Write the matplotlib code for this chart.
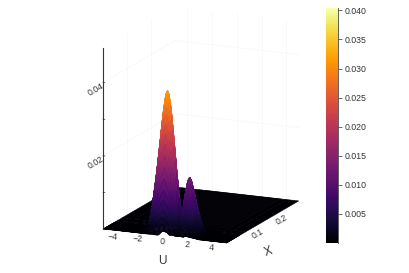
import numpy as np
import matplotlib
matplotlib.use("Agg")
import matplotlib.pyplot as plt
from matplotlib.colors import Normalize
from matplotlib.cm import ScalarMappable
from mpl_toolkits.mplot3d import proj3d

plt.rcParams['font.family'] = ['Liberation Sans', 'DejaVu Sans']

# ---- data ----
u_values = [-5, -4, -3,
            -2.5, -2.4, -2.3, -2.2, -2.1, -2.0, -1.9, -1.8, -1.7, -1.6,
            -1.5, -1.4, -1.3, -1.2, -1.1, -1.0, -0.9, -0.8, -0.7, -0.6,
            -0.5, -0.4, -0.3, -0.2, -0.1, 0.0, 0.1, 0.2, 0.3, 0.4,
            0.5, 0.6, 0.7, 0.8, 0.9, 1.0, 1.1, 1.2, 1.3, 1.4,
            1.5, 1.6, 1.7, 1.8, 1.9, 2.0, 2.1, 2.2, 2.3, 2.4,
            2.5, 2.6, 2.7, 2.8, 2.9, 3.0, 3.1, 3.2, 3.3, 3.4, 3.5,
            4, 5]
ridge_profile = [0, 0, 0.0001,
                 .0002, .0003, .0004, .0006, .0006, .0006, .0007, .0010, .0018, .0032,
                 .0050, .0072, .0098, .0126, .0155, .0185, .0217, .0250, .0283, .0315,
                 .0345, .0368, .0384, .0388, .0380, .0360, .0330, .0295, .0255, .0215,
                 .0175, .0135, .0102, .0075, .0060, .0060, .0075, .0100, .0125, .0143,
                 .0155, .0158, .0152, .0138, .0124, .0108, .0092, .0077, .0063, .0050,
                 .0039, .0030, .0022, .0016, .0011, .0008, .0005, .0003, .0002, .0001, 0,
                 0, 0]
edge_profile = [0, 0, 0,
                0, 0, 0, 0, 0, 0, 0, 0, 0, 0,
                0, 0, 0, 0, 0, 0, 0, 0, 0, 0,
                .0001, .0004, .0008, .0014, .0017, .0017, .0014, .0009, .0005, .0003,
                .0003, .0005, .0008, .0011, .0012, .0012, .0010, .0007, .0004, .0002,
                .0002, .0004, .0007, .0011, .0014, .0015, .0013, .0010, .0007, .0004,
                .0002, .0001, 0, 0, 0, 0, 0, 0, 0, 0, 0,
                0, 0]
x_values = [0, .00125, .0025, .00375, .005, .00625, .0075, .00875, .01, .01125, .0125, .01375,
            .015, .01625, .0175, .01875, .02, .02125, .0225, .02375, .025, .02625, .0275, .02875,
            .03, .03125, .0325, .03375, .035, .03625, .0375, .03875, .04, .0425, .045, .0475,
            .05, .055, .06, .08, .3]
x_decay = [0, .03, .08, .13, .18, .25, .32, .40, .48, .56, .64, .71,
           .78, .85, .90, .94, .97, .99, 1.0, .99, .97, .93, .88, .82,
           .75, .68, .60, .52, .45, .38, .32, .27, .22, .15, .10, .06,
           .04, .02, .01, 0, 0]
u_ticks = [-4, -2, 0, 2, 4]
x_ticks = [0.1, 0.2]
z_ticks = [0.02, 0.04]
z_minor = [0.01, 0.03]
cbar_ticks = [0.005, 0.010, 0.015, 0.020, 0.025, 0.030, 0.035, 0.040]
z_top = 0.0493
cbar_range = (0.00001, 0.0404)

U, X = np.meshgrid(u_values, x_values)
Z = np.outer(x_decay, ridge_profile)
Z[0, :] = edge_profile

W, H = 409, 273
fig = plt.figure(figsize=(W / 100, H / 100), dpi=100)
ax = fig.add_axes([0.1, 0.1, 0.8 * H / W, 0.8], projection='3d', proj_type='ortho')
ax.computed_zorder = False
ax.view_init(elev=14.9, azim=-66.2)
ax.set_box_aspect((134.4, 178, 186))
ax.set_xlim(-5, 5); ax.set_ylim(0, 0.3); ax.set_zlim(0, z_top)
ax.set_axis_off()
ax.patch.set_alpha(0)


def raw(u, x, z):
    a, b, _ = proj3d.proj_transform(u, x, z, ax.get_proj())
    d = ax.transData.transform((a, b))
    return np.array([d[0], H - d[1]])


# place the box so that its corners land on the reference's pixels
tgt_left, tgt_front = np.array([103.0, 229.0]), np.array([226.5, 243.0])
s = np.linalg.norm(tgt_front - tgt_left) / np.linalg.norm(raw(5, 0, 0) - raw(-5, 0, 0))
size = 0.8 * H * s
ax.set_position([0.1, 0.1, size / W, size / H])
off = tgt_left - raw(-5, 0, 0)
ax.set_position([0.1 + off[0] / W, 0.1 - off[1] / H, size / W, size / H])

grid_c = '#f8f8f8'
for z in z_ticks:
    ax.plot([-5, -5, 5], [0, 0.3, 0.3], [z, z, z], color=grid_c, lw=0.6, zorder=1)
for u in u_ticks:
    ax.plot([u, u], [0.3, 0.3], [0, z_top], color=grid_c, lw=0.6, zorder=1)
for x in x_ticks:
    ax.plot([-5, -5], [x, x], [0, z_top], color=grid_c, lw=0.6, zorder=1)

norm3d = Normalize(0, z_top)
surf = ax.plot_surface(U, X, Z, cmap='inferno', norm=norm3d, rcount=200, ccount=200,
                       linewidth=0.4, antialiased=True, shade=False, zorder=2)
surf.set_edgecolor('face')

ax.plot([-5, -5], [0, 0], [0, z_top], color='#333333', lw=0.8, zorder=3)
for z in z_ticks + z_minor:
    ax.plot([-5, -4.85], [0, 0], [z, z], color='#333333', lw=0.5, zorder=3)


def label(u, x, z, dx, dy, text, rot=0, size=6.3):
    p = raw(u, x, z)
    fig.text((p[0] + dx) / W, 1 - (p[1] + dy) / H, text, ha='center', va='center',
             rotation=rot, rotation_mode='anchor', fontsize=size, color='#333333')


for u in u_ticks:
    label(u, 0, 0, -2.5, 6, f'\u2212{abs(u)}' if u < 0 else str(u), rot=-4)
for x in x_ticks:
    label(5, x, 0, 7, 5, f'{x:.1f}', rot=30)
for z in z_ticks:
    label(-5, 0, z, -7, 7, f'{z:.2f}', rot=30)
label(0, 0, 0, -2, 25, 'U', rot=0, size=8.5)
label(5, 0.1, 0, 18, 23, 'X', rot=20, size=8.5)

cax = fig.add_axes([326 / W, 1 - 243 / H, 12 / W, 235 / H])
sm = ScalarMappable(norm=Normalize(*cbar_range), cmap='inferno')
cb = fig.colorbar(sm, cax=cax, ticks=cbar_ticks)
cb.ax.set_yticklabels([f'{t:.3f}' for t in cbar_ticks])
cb.ax.tick_params(length=3, width=0.5, pad=2, labelsize=6.3, colors='#333333')
for name, spine in cax.spines.items():
    spine.set_visible(name == 'right')
    spine.set_linewidth(0.6)
    spine.set_color('#444444')
cb.outline.set_visible(False)

fig.savefig('out.png', dpi=100)
